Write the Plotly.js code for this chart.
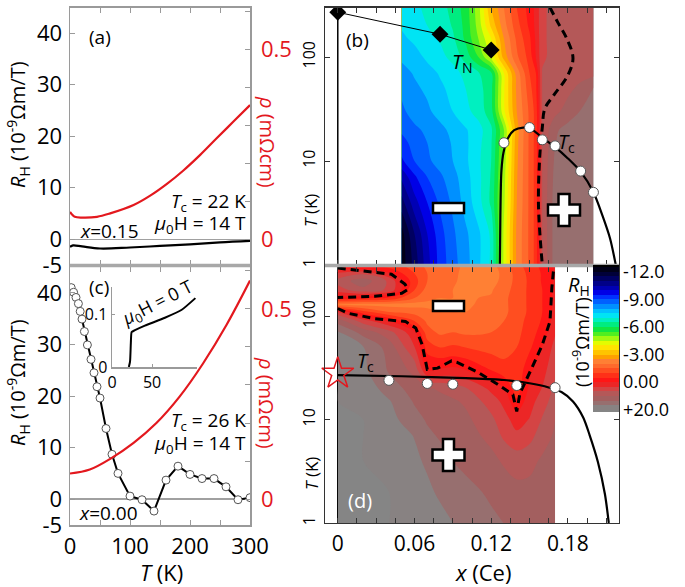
<!DOCTYPE html>
<html><head><meta charset="utf-8">
<script src="https://cdn.plot.ly/plotly-3.0.1.min.js"></script>
<style>html,body{margin:0;padding:0;background:#fff}#chart{width:685px;height:587px}</style>
</head><body><div id="chart"></div>
<script>
// ================= DATA =================
// (a) x = 0.15, 14 T
const aT_RH = [0, 5, 20, 50, 100, 150, 200, 250, 300];
const aRH   = [-1.5, -1.2, -1.4, -1.8, -1.6, -1.3, -1.0, -0.6, -0.3];
const aT_rho = [0, 3, 8, 20, 45, 67, 106, 133, 161, 189, 217, 244, 272, 300];
const aRho   = [0.072, 0.066, 0.059, 0.057, 0.059, 0.068, 0.090, 0.114, 0.145, 0.181, 0.222, 0.265, 0.309, 0.353];
// (c) x = 0.00, 14 T
const cT  = [2, 6, 10, 14, 17, 20, 24, 29, 35, 40, 45, 50, 60, 70, 80, 100, 120, 140, 160, 180, 200, 220, 240, 260, 280, 300];
const cRH = [41.0, 40.1, 39.1, 37.9, 36.4, 34.9, 32.5, 29.9, 27.1, 24.5, 21.8, 19.6, 13.7, 8.7, 5.0, 0.6, -0.1, -2.3, 3.7, 6.4, 4.8, 4.0, 4.0, 2.4, -0.1, 0.3];
const cT_rho = [0, 33, 69, 106, 144, 183, 222, 261, 300];
const cRho   = [0.0675, 0.078, 0.108, 0.148, 0.200, 0.270, 0.357, 0.458, 0.574];
// (c) inset, 0 T
const insT   = [21, 22.5, 23.5, 24.5, 28, 41, 66, 87, 104];
const insRho = [0, 0.01, 0.045, 0.066, 0.069, 0.078, 0.093, 0.108, 0.13];

// (b) R_H map (10^-9 Ohm m/T), rows = T, cols = x
const bX = [0.05, 0.06, 0.07, 0.08, 0.09, 0.10, 0.11, 0.12, 0.13, 0.14, 0.15, 0.155, 0.16, 0.17, 0.18, 0.19, 0.20];
const bT = [1, 2, 4, 7, 10, 15, 20, 30, 50, 70, 100, 150, 200, 300];
const bRH = [
 [-12.3,-11.3,-10.2,-9.3,-8.7,-8.2,-7.6,-6.9,-4.4,-2.4,-1.4,-0.8,7,15,15,15,15],
 [-12.2,-11.0,-10.0,-9.2,-8.6,-8.1,-7.6,-6.9,-4.4,-2.4,-1.4,-0.8,7,15,15,15,15],
 [-11.2,-10.2,-9.5,-8.9,-8.4,-7.8,-7.2,-6.4,-4.6,-2.5,-1.4,-0.8,7,15,15,15,15],
 [-10.4,-9.6,-9.0,-8.6,-8.2,-7.7,-7.15,-6.45,-4.7,-2.55,-1.4,-0.8,7,14.5,15,15,15],
 [-9.6,-9.0,-8.6,-8.3,-8.0,-7.6,-7.1,-6.5,-4.8,-2.6,-1.4,-0.8,7,14,15,15.5,15.5],
 [-9.2,-8.8,-8.5,-8.25,-7.95,-7.6,-7.15,-6.55,-4.9,-2.65,-1.4,-0.8,7,13.2,15,15.5,15.5],
 [-8.9,-8.6,-8.4,-8.15,-7.85,-7.55,-7.2,-6.6,-5.0,-2.7,-1.4,-0.8,7,12.8,14.5,15,15.5],
 [-8.6,-8.3,-8.1,-7.8,-7.5,-7.15,-6.8,-6.2,-4.1,-2.5,-1.4,-0.8,7,9,11.5,13.5,14.5],
 [-8.4,-8.1,-7.9,-7.6,-7.35,-7.0,-6.7,-6.15,-4.05,-2.4,-1.2,-0.6,7,8,9,11,13.5],
 [-8.2,-7.95,-7.7,-7.45,-7.2,-6.85,-6.55,-6.1,-4.0,-2.3,-1.0,-0.5,7,8,8.2,8.5,9],
 [-7.9,-7.7,-7.4,-7.15,-6.85,-6.3,-5.5,-4.4,-2.8,-1.6,-0.8,0.2,6,8,8,8,8],
 [-7.6,-7.4,-7.15,-6.95,-6.6,-5.9,-5.0,-4.0,-2.5,-1.4,-0.6,0.6,6,8,8,8,8],
 [-7.45,-7.25,-7.0,-6.85,-6.45,-5.85,-4.8,-3.4,-2.2,-1.2,-0.4,1.0,6,8,8,8,8],
 [-7.3,-7.1,-6.9,-6.75,-6.3,-5.8,-4.7,-3.0,-2.0,-1.0,-0.3,1.0,6,8,8,8,8]
];
const bTcX = [0.13, 0.15, 0.16, 0.17, 0.19, 0.20];
const bTcT = [15, 21, 16, 14, 8, 5];
const bTcLineX = [0.1268, 0.1272, 0.128, 0.1296, 0.133, 0.138, 0.145, 0.151, 0.16, 0.17, 0.18, 0.19, 0.2, 0.207, 0.213, 0.2175];
const bTcLineT = [1, 3, 8, 12, 16.5, 19.8, 21, 20.5, 16.8, 13.6, 10.6, 7.9, 5, 3, 1.8, 1];
const bTNX = [0, 0.08, 0.12];
const bTNT = [270, 166, 117];
const bZeroX = [0.166, 0.172, 0.179, 0.184, 0.180, 0.169, 0.162, 0.160, 0.158, 0.157, 0.160];
const bZeroT = [300, 217, 152, 98, 67, 43, 32, 21, 11, 3.8, 1];

// (d) R_H map
const dX = [0, 0.02, 0.04, 0.06, 0.07, 0.08, 0.09, 0.10, 0.12, 0.13, 0.14, 0.15, 0.16, 0.17];
const dT = [1, 2, 4, 7, 10, 15, 20, 30, 50, 70, 90, 110, 130, 150, 180, 220, 260, 300];
const dRH = [
 [20,20,20,19.5,19,18,16.7,15.5,14,13.3,12,11.5,11.5,11.5],
 [20,20,20,19,17.5,16,15,14.3,12.8,12,11,11,11.5,11.5],
 [20,20,19.5,17.5,16,14.5,13.3,12.5,11,9.5,8.5,9,10.5,11],
 [20,20,19,16.5,14,13,12.2,11.5,9,6,4,5.5,8.5,10.5],
 [20,20,18,14.5,13,12.2,11.5,10.8,7.5,4.5,2.0,3.5,7,10],
 [20,19.5,17,13,12,11.2,10.5,9.5,5,2.5,-0.4,2,5,8.5],
 [20,19,15,12,10.5,9.5,8.5,7,2.5,0.3,-0.8,0.8,3.5,7.5],
 [20,17.5,13,9,0.05,0.5,1,0.2,-0.5,-0.8,-0.9,-0.1,2,6],
 [18.5,16.8,12,3.5,-0.7,-1.0,-0.9,-1.0,-1.2,-1.2,-1.0,-0.6,0.1,4.5],
 [17,12,8,1,-1.3,-1.6,-1.5,-1.6,-1.5,-1.4,-1.15,-0.75,-0.3,3],
 [12,5,0.2,-1.0,-1.6,-1.9,-1.9,-1.9,-1.7,-1.5,-1.25,-0.8,-0.45,1.5],
 [4,-0.8,-1.5,-1.7,-1.9,-2.0,-2.0,-2.0,-1.85,-1.6,-1.3,-0.9,-0.5,1.2],
 [-2.1,-2.2,-2.2,-2.2,-2.1,-2.1,-2.1,-2.05,-1.9,-1.6,-1.3,-0.9,-0.5,1.0],
 [-0.2,-0.4,-0.6,-1.5,-1.9,-2.0,-2.0,-2.05,-1.95,-1.6,-1.3,-0.9,-0.5,0.9],
 [5,9,6,-1.0,-1.7,-1.9,-2.0,-2.1,-2.05,-1.7,-1.3,-0.9,-0.5,0.8],
 [8,12,6,-0.8,-1.5,-1.7,-1.9,-2.2,-2.25,-1.8,-1.35,-0.9,-0.45,0.6],
 [4,6,0.5,-1.0,-1.5,-1.7,-1.8,-2.25,-2.35,-1.8,-1.35,-0.85,-0.45,0.5],
 [-0.3,-0.4,-0.6,-1.2,-1.6,-1.7,-1.8,-2.15,-2.25,-1.7,-1.25,-0.75,-0.4,0.4]
];
const dTcX = [0.04, 0.07, 0.09, 0.14, 0.17];
const dTcT = [24, 22.4, 22, 21.4, 20.4];
const dStarX = [0];
const dStarT = [28];
const dTcLineX = [0, 0.05, 0.10, 0.13, 0.15, 0.165, 0.175, 0.184, 0.192, 0.197, 0.2035, 0.209, 0.212];
const dTcLineT = [27, 26.3, 25.2, 24.2, 22.5, 20.5, 18.5, 15, 10.5, 7.1, 3.9, 1.9, 1];
const dZero1X = [0, 0.042, 0.0525, 0.055, 0.05, 0.029, 0];
const dZero1T = [293, 255, 205, 183, 167, 156, 152];
const dZero2X = [0, 0.008, 0.029, 0.053, 0.061, 0.066, 0.070, 0.078, 0.089, 0.093, 0.109, 0.125, 0.137, 0.140, 0.1425, 0.147, 0.153, 0.160, 0.166, 0.1675, 0.169];
const dZero2T = [119, 107, 95, 89, 77, 53, 30.6, 31.5, 37, 36, 29, 22, 17.5, 12, 18, 23.5, 34, 53, 89, 190, 300];

// tick labels
const tTickVals = [0, 50, 100, 150, 200, 250, 300];
const tTickText = ['0', '', '100', '', '200', '', '300'];
const rhTickVals = [-5, 0, 10, 20, 30, 40];
const rhTickText = ['-5', '0', '10', '20', '30', '40'];
const rhoTickVals = [0, 0.1, 0.2, 0.3, 0.4, 0.5, 0.6];
const rhoTickText = ['0', '', '', '', '', '0.5', ''];
const xceTickVals = [0, 0.015, 0.03, 0.045, 0.06, 0.075, 0.09, 0.105, 0.12, 0.135, 0.15, 0.165, 0.18, 0.195, 0.21];
const xceTickText = ['0', '', '', '', '0.06', '', '', '', '0.12', '', '', '', '0.18', '', ''];
const logTickVals = [1, 10, 100];
const logTickText = ['1', '10', '100'];
const cbRH = [-12, -9, -6, -3, 0, 20];
const cbText = ['-12.0', '-9.00', '-6.00', '-3.00', '0.00', '+20.0'];

// ================= STYLE / LAYOUT =================
const W = 685, H = 587;
const px = v => v / W;
const py = v => 1 - v / H;
const RED = '#e3181e';
const FONT = 'Open Sans, Noto Sans, sans-serif';
// display transform: negative values linear, positive values compressed (0..20 -> 0..3)
const toW = z => z < 0 ? -z : -z * 3 / 20;
const mapZ = g => g.map(r => r.map(toW));

const colorStops = [
 [-12.75,'#000000'],[-12.25,'#000018'],[-11.75,'#000038'],[-11.25,'#000060'],[-10.75,'#000088'],
 [-10.25,'#0000b4'],[-9.75,'#0000e6'],[-9.25,'#0030ff'],[-8.75,'#0060ff'],[-8.25,'#0090ff'],
 [-7.75,'#00c0ff'],[-7.25,'#00e4f4'],[-6.75,'#00f0c0'],[-6.25,'#00ec80'],[-5.75,'#10e640'],
 [-5.25,'#50ee20'],[-4.75,'#a0f810'],[-4.25,'#e4fc00'],[-3.75,'#ffe400'],[-3.25,'#ffc400'],
 [-2.75,'#ffa000'],[-2.25,'#ff8034'],[-1.75,'#ff6a2c'],[-1.25,'#ff4e20'],[-0.75,'#ff3018'],
 [-0.25,'#ff1616'],[1.667,'#ec2626'],[5,'#d44444'],[8.333,'#b45858'],[11.667,'#a35f5f'],
 [15,'#976f6f'],[18.333,'#888282'],[21.667,'#858585']
];
const colorscale = colorStops.map(s => [(toW(s[0]) + 3.25) / 16, s[1]]).sort((a, b) => a[0] - b[0]);
colorscale[0][0] = 0; colorscale[colorscale.length - 1][0] = 1;
const contourCfg = {start: -3, end: 12.5, size: 0.5, coloring: 'fill', showlines: false};

const traces = [];
// (a)
traces.push({x: aT_RH, y: aRH, xaxis: 'x', yaxis: 'y', mode: 'lines', line: {color: '#000', width: 2.2, shape: 'spline'}});
traces.push({x: aT_rho, y: aRho, xaxis: 'x', yaxis: 'y2', mode: 'lines', line: {color: RED, width: 2.2, shape: 'spline'}});
// (c)
traces.push({x: cT_rho, y: cRho, xaxis: 'x3', yaxis: 'y4', mode: 'lines', line: {color: RED, width: 2.2, shape: 'spline'}});
traces.push({x: cT, y: cRH, xaxis: 'x3', yaxis: 'y3', mode: 'lines+markers', line: {color: '#000', width: 2},
  marker: {symbol: 'circle', size: 8, color: '#fff', line: {color: '#555', width: 1}}});
traces.push({x: insT, y: insRho, xaxis: 'x7', yaxis: 'y7', mode: 'lines', line: {color: '#000', width: 2, shape: 'spline', smoothing: 0.5}});
// (b) map
traces.push({type: 'contour', x: bX, y: bT, z: mapZ(bRH), xaxis: 'x5', yaxis: 'y5', colorscale: colorscale,
  autocontour: false, contours: contourCfg, line: {width: 0}, showscale: false, hoverinfo: 'skip'});
// (d) map with colorbar
traces.push({type: 'contour', x: dX, y: dT, z: mapZ(dRH), xaxis: 'x6', yaxis: 'y6', colorscale: colorscale,
  autocontour: false, contours: contourCfg, line: {width: 0}, hoverinfo: 'skip',
  colorbar: {x: px(593), xanchor: 'left', y: py(265), yanchor: 'top', len: 147, lenmode: 'pixels',
    thickness: 26, thicknessmode: 'pixels', outlinewidth: 0, xpad: 0, ypad: 0, ticks: '',
    tickvals: cbRH.map(toW), ticktext: cbText, tickfont: {size: 18, family: FONT, color: '#000'}}});
// (b) overlays
traces.push({x: [bTNX[0], bTNX[0]], y: [1, bTNT[0]], xaxis: 'x5', yaxis: 'y5', mode: 'lines', line: {color: '#000', width: 1.5}});
traces.push({x: bZeroX, y: bZeroT, xaxis: 'x5', yaxis: 'y5', mode: 'lines', line: {color: '#000', width: 3, dash: '8px,5px', shape: 'spline'}});
traces.push({x: bTcLineX, y: bTcLineT, xaxis: 'x5', yaxis: 'y5', mode: 'lines', line: {color: '#000', width: 2.2, shape: 'spline', smoothing: 0.8}});
traces.push({x: bTcX, y: bTcT, xaxis: 'x5', yaxis: 'y5', mode: 'markers', marker: {size: 10, color: '#fff', line: {color: '#555', width: 1}}});
traces.push({x: bTNX, y: bTNT, xaxis: 'x5', yaxis: 'y5', mode: 'lines+markers', line: {color: '#000', width: 1},
  marker: {symbol: 'diamond', size: 13, color: '#000'}});
// (d) overlays
traces.push({x: dZero1X, y: dZero1T, xaxis: 'x6', yaxis: 'y6', mode: 'lines', line: {color: '#000', width: 3, dash: '8px,5px'}});
traces.push({x: dZero2X, y: dZero2T, xaxis: 'x6', yaxis: 'y6', mode: 'lines', line: {color: '#000', width: 3, dash: '8px,5px'}});
traces.push({x: dTcLineX, y: dTcLineT, xaxis: 'x6', yaxis: 'y6', mode: 'lines', line: {color: '#000', width: 2.2, shape: 'spline', smoothing: 0.8}});
traces.push({x: dTcX, y: dTcT, xaxis: 'x6', yaxis: 'y6', mode: 'markers', marker: {size: 10, color: '#fff', line: {color: '#555', width: 1}}});
traces.push({x: dStarX, y: dStarT, xaxis: 'x6', yaxis: 'y6', mode: 'markers', cliponaxis: false,
  marker: {symbol: 'star-open', size: 24, color: RED, line: {color: RED, width: 1.5}}});

const leftFrame = {showline: true, linecolor: '#9a9a9a', linewidth: 1.5, ticks: 'inside', ticklen: 5, tickcolor: '#9a9a9a', showgrid: false, zeroline: false, tickfont: {size: 22, family: FONT, color: '#000'}};
const rightFrame = {showline: true, linecolor: '#333', linewidth: 1.2, ticks: 'inside', ticklen: 5, tickcolor: '#333', showgrid: false, zeroline: false, mirror: 'ticks'};
const tcDomX = [px(70), px(250)];
const mapDomX = [px(325), px(619)];
const topDomY = [py(265), py(7.5)];
const rhoRange = [-5 / 73.8, 45 / 73.8];

const layout = {
  width: W, height: H, margin: {l: 0, r: 0, t: 0, b: 0}, showlegend: false, autosize: false,
  paper_bgcolor: '#fff', plot_bgcolor: 'rgba(0,0,0,0)', font: {family: FONT, color: '#000'},
  xaxis: Object.assign({}, leftFrame, {domain: tcDomX, anchor: 'y', range: [0, 300], tickvals: tTickVals, ticktext: tTickVals.map(() => ''), mirror: 'ticks'}),
  yaxis: Object.assign({}, leftFrame, {domain: topDomY, anchor: 'x', range: [-5, 45], tickvals: rhTickVals, ticktext: rhTickText, zeroline: true, zerolinecolor: '#a0a0a0', zerolinewidth: 1.5, ticklabelstandoff: 2}),
  yaxis2: Object.assign({}, leftFrame, {overlaying: 'y', side: 'right', anchor: 'x', range: rhoRange, tickvals: rhoTickVals, ticktext: rhoTickText, tickfont: {size: 22, family: FONT, color: RED}, ticklabelstandoff: 5}),
  xaxis3: Object.assign({}, leftFrame, {domain: tcDomX, anchor: 'y3', range: [0, 300], tickvals: tTickVals, ticktext: tTickText, mirror: 'ticks', ticklabelstandoff: 1}),
  yaxis3: Object.assign({}, leftFrame, {domain: [py(525), py(267)], anchor: 'x3', range: [-5, 45], tickvals: rhTickVals, ticktext: rhTickText, zeroline: true, zerolinecolor: '#a0a0a0', zerolinewidth: 1.5, ticklabelstandoff: 2}),
  yaxis4: Object.assign({}, leftFrame, {overlaying: 'y3', side: 'right', anchor: 'x3', range: rhoRange, tickvals: rhoTickVals, ticktext: rhoTickText, tickfont: {size: 22, family: FONT, color: RED}, ticklabelstandoff: 5}),
  xaxis7: Object.assign({}, leftFrame, {domain: [px(112), px(197)], anchor: 'y7', range: [0, 106], tickvals: [0, 50], ticklen: 3, tickfont: {size: 16, family: FONT}, ticklabelstandoff: 0}),
  yaxis7: Object.assign({}, leftFrame, {domain: [py(367), py(287)], anchor: 'x7', range: [0, 0.151], tickvals: [0, 0.1], ticktext: ['0', '0.1'], ticklen: 3, tickfont: {size: 16, family: FONT}, ticklabelstandoff: 0}),
  xaxis5: Object.assign({}, rightFrame, {domain: mapDomX, anchor: 'y5', range: [-0.01, 0.22], tickvals: xceTickVals, ticktext: xceTickVals.map(() => '')}),
  yaxis5: Object.assign({}, rightFrame, {domain: topDomY, anchor: 'x5', type: 'log', range: [0, Math.log10(300)], tickvals: logTickVals, ticktext: logTickText, tickangle: -90, tickfont: {size: 16, family: FONT}, ticklabelstandoff: 2}),
  xaxis6: Object.assign({}, rightFrame, {domain: mapDomX, anchor: 'y6', range: [-0.01, 0.22], tickvals: xceTickVals, ticktext: xceTickText, tickfont: {size: 21, family: FONT}, ticklabelstandoff: 2, zeroline: true, zerolinecolor: '#000', zerolinewidth: 2}),
  yaxis6: Object.assign({}, rightFrame, {domain: [py(523), py(267)], anchor: 'x6', type: 'log', range: [0, Math.log10(300)], tickvals: logTickVals, ticktext: logTickText, tickangle: -90, tickfont: {size: 16, family: FONT}, ticklabelstandoff: 2}),
  shapes: [],
  annotations: []
};

// separators
layout.shapes.push({type: 'line', xref: 'paper', yref: 'paper', x0: px(70), x1: px(250), y0: py(265.5), y1: py(265.5), line: {color: '#a8a8a8', width: 3.5}});
layout.shapes.push({type: 'line', xref: 'paper', yref: 'paper', x0: px(325), x1: px(619), y0: py(265.5), y1: py(265.5), line: {color: '#a8a8a8', width: 3.5}});
// sign boxes
function rectShape(x0, y0, x1, y1) {
  return {type: 'rect', xref: 'paper', yref: 'paper', x0: px(x0), x1: px(x1), y0: py(y1), y1: py(y0), fillcolor: '#fff', line: {color: '#000', width: 2.5}};
}
function plusShape(cx, cy, h, t) {
  const pts = [[cx-t,cy-h],[cx+t,cy-h],[cx+t,cy-t],[cx+h,cy-t],[cx+h,cy+t],[cx+t,cy+t],[cx+t,cy+h],[cx-t,cy+h],[cx-t,cy+t],[cx-h,cy+t],[cx-h,cy-t],[cx-t,cy-t]];
  return {type: 'path', xref: 'paper', yref: 'paper', path: 'M' + pts.map(p => px(p[0]) + ',' + py(p[1])).join('L') + 'Z', fillcolor: '#fff', line: {color: '#000', width: 2.5}};
}
layout.shapes.push(rectShape(433, 203, 464, 213));
layout.shapes.push(plusShape(564, 210, 16, 5.5));
layout.shapes.push(rectShape(433, 301, 464, 311));
layout.shapes.push(plusShape(448.5, 455, 16, 5.5));

function ann(text, x, y, o) {
  layout.annotations.push(Object.assign({text: text, xref: 'paper', yref: 'paper', x: px(x), y: py(y), showarrow: false,
    xanchor: 'center', yanchor: 'middle', font: {size: 19, family: FONT, color: '#000'}}, o || {}));
}
const rhTitle = '<i>R</i><sub>H</sub> (10<sup>-9</sup>Ωm/T)';
const rhoTitle = '<i>ρ</i> (mΩcm)';
// (a)
ann('(a)', 100, 37);
ann('<i>T</i><sub>c</sub> = 22 K', 248, 202, {xanchor: 'right'});
ann('<i>μ</i><sub>0</sub>H = 14 T', 248, 224, {xanchor: 'right'});
ann('<i>x</i>=0.15', 78, 231, {xanchor: 'left'});
ann(rhTitle, 18, 125, {textangle: -90, font: {size: 20, family: FONT}});
ann(rhoTitle, 267, 142, {textangle: 90, font: {size: 20, family: FONT, color: RED}});
// (c)
ann('(c)', 99, 287);
ann('<i>T</i><sub>c</sub> = 26 K', 248, 421, {xanchor: 'right'});
ann('<i>μ</i><sub>0</sub>H = 14 T', 248, 444, {xanchor: 'right'});
ann('<i>x</i>=0.00', 77, 513, {xanchor: 'left'});
ann('<i>μ</i><sub>0</sub>H = 0 T', 157, 303, {textangle: -27, font: {size: 18, family: FONT}});
ann(rhTitle, 18, 383, {textangle: -90, font: {size: 20, family: FONT}});
ann(rhoTitle, 267, 403, {textangle: 90, font: {size: 20, family: FONT, color: RED}});
ann('<i>T</i> (K)', 161, 572, {font: {size: 22, family: FONT}});
// (b)
ann('(b)', 357, 40);
ann('<i>T</i><sub>N</sub>', 462, 63, {font: {size: 20, family: FONT}});
ann('<i>T</i><sub>c</sub>', 566, 143, {font: {size: 20, family: FONT}});
ann('<i>T</i> (K)', 311, 211, {textangle: -90, font: {size: 17, family: FONT}});
// (d)
ann('<i>T</i><sub>c</sub>', 365, 361, {font: {size: 20, family: FONT}});
ann('(d)', 360, 500, {font: {size: 20, family: FONT, color: '#fff'}});
ann('<i>T</i> (K)', 311, 474, {textangle: -90, font: {size: 17, family: FONT}});
ann('<i>x</i> (Ce)', 483, 572, {font: {size: 22, family: FONT}});
ann('<i>R</i><sub>H</sub>', 579, 285, {font: {size: 20, family: FONT}});
ann('(10<sup>-9</sup>Ωm/T)', 581, 342, {textangle: -90, font: {size: 18, family: FONT}});

Plotly.newPlot('chart', traces, layout, {displayModeBar: false, staticPlot: true});
</script>
</body></html>
